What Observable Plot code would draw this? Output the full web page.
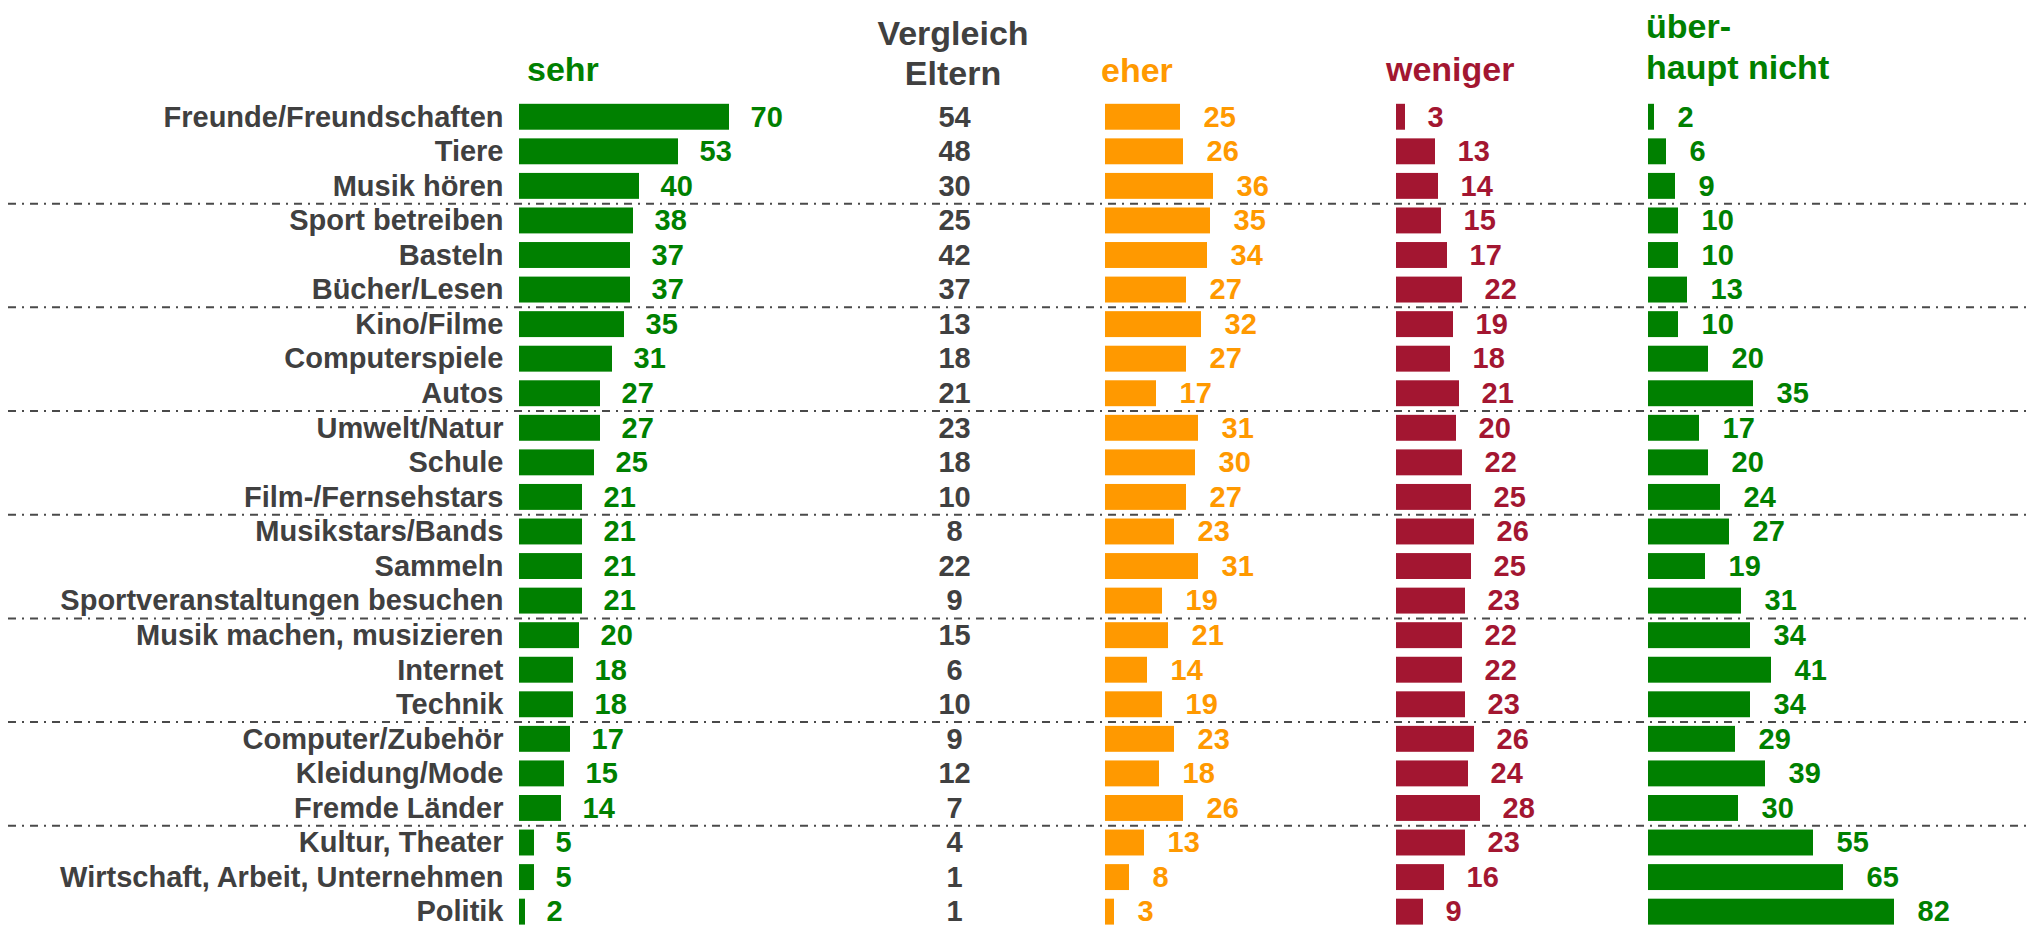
<!DOCTYPE html>
<html>
<head>
<meta charset="utf-8">
<script src="https://cdn.jsdelivr.net/npm/d3@7"></script>
<script src="https://cdn.jsdelivr.net/npm/@observablehq/plot@0.6"></script>
<style>
  html, body { margin: 0; padding: 0; background: #fff; }
  #chart { position: relative; width: 2031px; height: 928px; overflow: hidden;
           font-family: "Liberation Sans", Arial, sans-serif; font-weight: bold; }
  #chart > svg, #chart > figure { position: absolute; top: 0; margin: 0; }
  .hdr { position: absolute; font-size: 34px; line-height: 34px; white-space: nowrap; }
</style>
</head>
<body>
<div id="chart"></div>
<script>
// ---- data ----
const categories = [
  "Freunde/Freundschaften", "Tiere", "Musik hören", "Sport betreiben", "Basteln",
  "Bücher/Lesen", "Kino/Filme", "Computerspiele", "Autos", "Umwelt/Natur", "Schule",
  "Film-/Fernsehstars", "Musikstars/Bands", "Sammeln", "Sportveranstaltungen besuchen",
  "Musik machen, musizieren", "Internet", "Technik", "Computer/Zubehör", "Kleidung/Mode",
  "Fremde Länder", "Kultur, Theater", "Wirtschaft, Arbeit, Unternehmen", "Politik"
];
const sehr       = [70, 53, 40, 38, 37, 37, 35, 31, 27, 27, 25, 21, 21, 21, 21, 20, 18, 18, 17, 15, 14, 5, 5, 2];
const eltern     = [54, 48, 30, 25, 42, 37, 13, 18, 21, 23, 18, 10, 8, 22, 9, 15, 6, 10, 9, 12, 7, 4, 1, 1];
const eher       = [25, 26, 36, 35, 34, 27, 32, 27, 17, 31, 30, 27, 23, 31, 19, 21, 14, 19, 23, 18, 26, 13, 8, 3];
const weniger    = [3, 13, 14, 15, 17, 22, 19, 18, 21, 20, 22, 25, 26, 25, 23, 22, 22, 23, 26, 24, 28, 23, 16, 9];
const ueberhaupt = [2, 6, 9, 10, 10, 13, 10, 20, 35, 17, 20, 24, 27, 19, 31, 34, 41, 34, 29, 39, 30, 55, 65, 82];
const headers = {sehr: "sehr", eltern: ["Vergleich", "Eltern"], eher: "eher", weniger: "weniger", ueber: ["über-", "haupt nicht"]};

// ---- style ----
const GREEN = "#008000", ORANGE = "#FF9900", RED = "#A31631", GRAY = "#404040";
const FONT = "'Liberation Sans', Arial, sans-serif";
const FS = 29;
const H = 928;
const step = 34.56;
const r0 = 103.8 - 0.125 * step;
const yScale = {domain: categories, range: [r0, r0 + categories.length * step], paddingInner: 0.25, paddingOuter: 0.125, round: false, axis: null};
const svgStyle = {fontFamily: FONT, fontWeight: "bold", background: "transparent", overflow: "visible"};

const chart = document.getElementById("chart");
function place(el, left) { el.style.left = left + "px"; chart.appendChild(el); }

// separators
const sepCats = categories.filter((d, i) => i % 3 === 2 && i < categories.length - 1);
place(Plot.plot({
  width: 2031, height: H, marginLeft: 8, marginRight: 0, marginTop: 0, marginBottom: 0,
  y: yScale, style: svgStyle,
  marks: [Plot.ruleY(sepCats, {y: d => d, dy: step / 2, stroke: "#4a4a4a", strokeWidth: 2, strokeDasharray: "8,6,2,6"})]
}), 0);

// category labels
place(Plot.plot({
  width: 511, height: H, marginLeft: 0, marginRight: 8, marginTop: 0, marginBottom: 0,
  y: yScale, style: svgStyle,
  marks: [Plot.text(categories, {y: d => d, frameAnchor: "right", textAnchor: "end", fontSize: FS, fontWeight: "bold", fill: GRAY})]
}), 0);

// bar panels
function barPanel(values, color, left, width, inner, gap) {
  const data = categories.map((c, i) => ({c, v: values[i]}));
  return place(Plot.plot({
    width, height: H, marginLeft: 0, marginRight: 0, marginTop: 0, marginBottom: 0,
    x: {domain: [0, 100], range: [inner, inner + 300], axis: null},
    y: yScale, style: svgStyle,
    marks: [
      Plot.barX(data, {x: "v", y: "c", fill: color}),
      Plot.text(data, {x: "v", y: "c", text: d => String(d.v), dx: gap, textAnchor: "start", fontSize: FS, fontWeight: "bold", fill: color})
    ]
  }), left);
}
barPanel(sehr, GREEN, 511, 339, 8, 21);
barPanel(eher, ORANGE, 1060, 290, 45, 23);
barPanel(weniger, RED, 1350, 250, 46, 22);
barPanel(ueberhaupt, GREEN, 1600, 431, 48, 23);

// Vergleich Eltern column
place(Plot.plot({
  width: 208, height: H, marginLeft: 0, marginRight: 0, marginTop: 0, marginBottom: 0,
  y: yScale, style: svgStyle,
  marks: [Plot.text(categories.map((c, i) => ({c, v: eltern[i]})), {y: "c", text: d => String(d.v), frameAnchor: "middle", fontSize: FS, fontWeight: "bold", fill: GRAY})]
}), 850);

// headers
function hdr(text, left, top, color, opts = {}) {
  const d = document.createElement("div");
  d.className = "hdr";
  d.style.left = left + "px";
  d.style.top = top + "px";
  d.style.color = color;
  if (opts.lh) d.style.lineHeight = opts.lh + "px";
  if (opts.w) { d.style.width = opts.w + "px"; d.style.textAlign = "center"; }
  d.innerHTML = Array.isArray(text) ? text.join("<br>") : text;
  chart.appendChild(d);
}
hdr(headers.sehr, 527, 52, GREEN);
hdr(headers.eltern, 853, 13, GRAY, {lh: 40, w: 200});
hdr(headers.eher, 1101, 53, ORANGE);
hdr(headers.weniger, 1386, 52, RED);
hdr(headers.ueber, 1646, 6, GREEN, {lh: 41});
</script>
</body>
</html>
